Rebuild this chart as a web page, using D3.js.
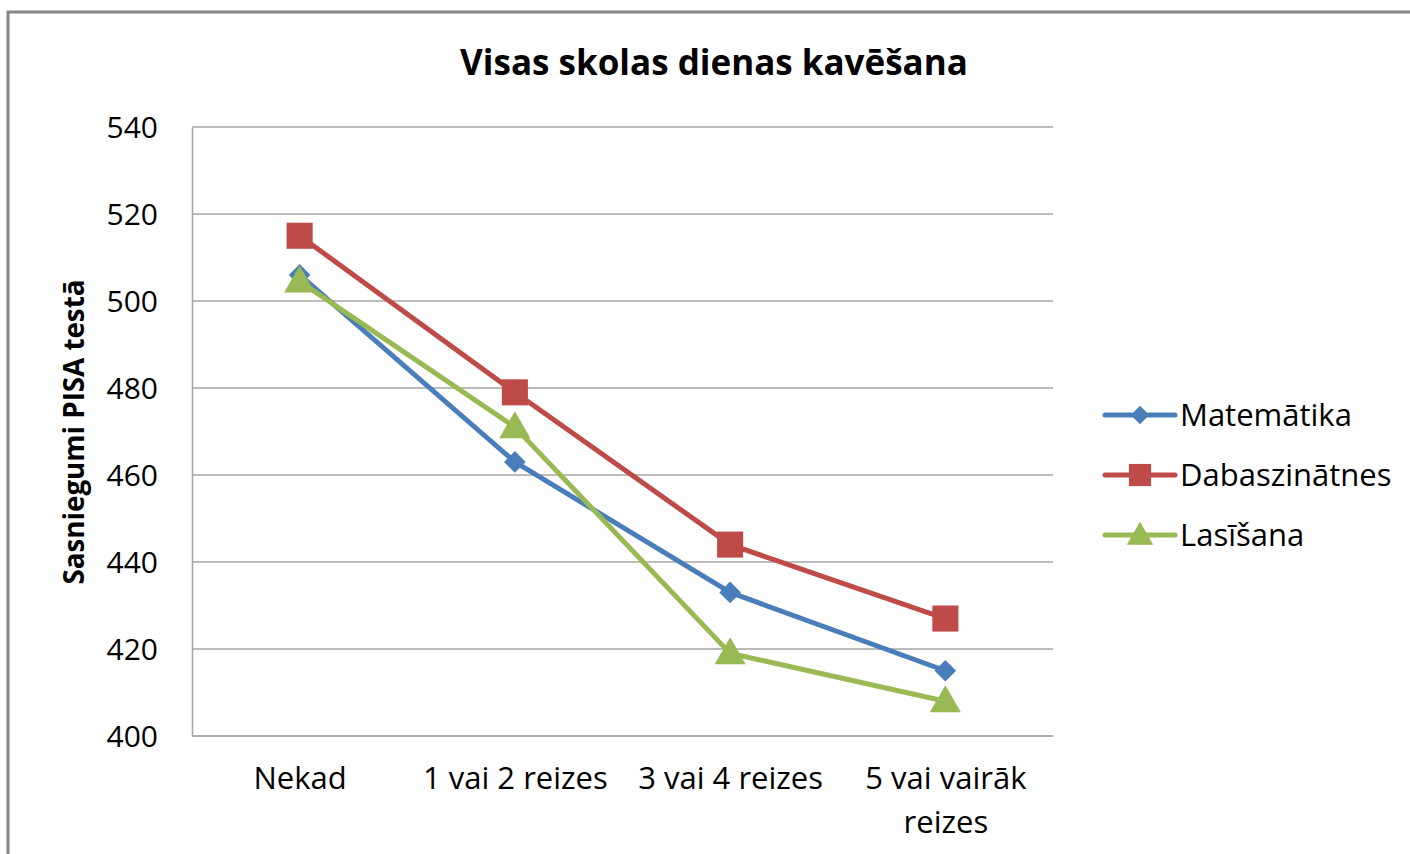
<!DOCTYPE html>
<html>
<head>
<meta charset="utf-8">
<script src="https://cdn.jsdelivr.net/npm/d3@7"></script>
<style>
  html, body { margin: 0; padding: 0; background: #fff; }
  svg { display: block; }
  text { font-family: "Open Sans", Lato, sans-serif; fill: #000; }
</style>
</head>
<body>
<svg id="chart" width="1410" height="854"></svg>
<script>
const title = "Visas skolas dienas kavēšana";
const yTitle = "Sasniegumi PISA testā";
const categories = ["Nekad", "1 vai 2 reizes", "3 vai 4 reizes", "5 vai vairāk reizes"];
const categoryLines = [["Nekad"], ["1 vai 2 reizes"], ["3 vai 4 reizes"], ["5 vai vairāk", "reizes"]];
const yTicks = [400, 420, 440, 460, 480, 500, 520, 540];
const seriesNames = ["Matemātika", "Dabaszinātnes", "Lasīšana"];
const matematika = [506, 463, 433, 415];
const dabaszinatnes = [515, 479, 444, 427];
const lasisana = [504.5, 471, 419, 408];
const seriesValues = [matematika, dabaszinatnes, lasisana];
const colors = ["#4A7EBB", "#BE4B48", "#98B954"];
const markers = ["diamond", "square", "triangle"];

const svg = d3.select("#chart");
const plot = { left: 192, right: 1053, top: 127, bottom: 736 };

function fitWidth(sel, target) {
  sel.each(function() {
    const w = this.getComputedTextLength();
    if (w > 0) {
      const fs = parseFloat(d3.select(this).style("font-size"));
      d3.select(this).style("font-size", (fs * target / w) + "px");
    }
  });
}

// outer border (left + top only visible)
svg.append("path")
  .attr("d", "M8,854 L8,12 L1410,12")
  .attr("fill", "none").attr("stroke", "#868686").attr("stroke-width", 3);

const x = d3.scalePoint().domain(categories).range([plot.left, plot.right]).padding(0.5);
const y = d3.scaleLinear().domain([400, 540]).range([plot.bottom, plot.top]);

// gridlines
svg.append("g").selectAll("line").data(yTicks).join("line")
  .attr("x1", plot.left).attr("x2", plot.right)
  .attr("y1", d => y(d)).attr("y2", d => y(d))
  .attr("stroke", "#a6a6a6").attr("stroke-width", 1.5);

// axes
const yAxis = svg.append("g").attr("transform", `translate(${plot.left},0)`)
  .call(d3.axisLeft(y).tickValues(yTicks).tickSize(0).tickPadding(34));
yAxis.select(".domain").attr("stroke", "#a6a6a6").attr("stroke-width", 1.5);
yAxis.selectAll("text").style("font-size", "30px").attr("dy", "0.36em");

const xAxis = svg.append("g").attr("transform", `translate(0,${plot.bottom})`)
  .call(d3.axisBottom(x).tickSize(0).tickFormat(""));
xAxis.select(".domain").attr("stroke", "#a6a6a6").attr("stroke-width", 1.5)
  .attr("d", `M${plot.left},0H${plot.right}`);
xAxis.selectAll(".tick").each(function(d, i) {
  const t = d3.select(this).append("text").attr("text-anchor", "middle").style("font-size", "31px");
  categoryLines[i].forEach((ln, j) => {
    t.append("tspan").attr("x", 0).attr("y", 53 + j * 44).text(ln);
  });
});

// title
const tt = svg.append("text").attr("x", 714).attr("y", 75).attr("text-anchor", "middle")
  .style("font-size", "30px").style("font-weight", "bold").text(title);
fitWidth(tt, 508);

// y axis title
const yt = svg.append("text").attr("transform", "translate(84,432) rotate(-90)")
  .attr("text-anchor", "middle").style("font-size", "26px").style("font-weight", "bold").text(yTitle);
fitWidth(yt, 305);

function markerPath(type) {
  if (type === "diamond") return d3.symbol().type(d3.symbolDiamond2).size(300)();
  if (type === "square") return d3.symbol().type(d3.symbolSquare).size(680)();
  return d3.symbol().type(d3.symbolTriangle).size(420)();
}

const line = d3.line().x((d, i) => x(categories[i])).y(d => y(d));

seriesValues.forEach((vals, s) => {
  const g = svg.append("g");
  g.append("path").datum(vals).attr("d", line)
    .attr("fill", "none").attr("stroke", colors[s]).attr("stroke-width", 5).attr("stroke-linejoin", "round");
  g.selectAll("path.m").data(vals).join("path").attr("class", "m")
    .attr("d", markerPath(markers[s]))
    .attr("transform", (d, i) => `translate(${x(categories[i])},${y(d) + (markers[s] === "triangle" ? 2 : 0)})`)
    .attr("fill", colors[s]);
});

// legend
const legend = svg.append("g");
seriesNames.forEach((name, s) => {
  const ly = 415 + s * 60;
  legend.append("line").attr("x1", 1105).attr("x2", 1175).attr("y1", ly).attr("y2", ly)
    .attr("stroke", colors[s]).attr("stroke-width", 5).attr("stroke-linecap", "round");
  legend.append("path").attr("d", markerPath(markers[s]))
    .attr("transform", `translate(1140,${ly + (markers[s] === "triangle" ? 2 : 0)}) scale(0.85)`)
    .attr("fill", colors[s]);
  legend.append("text").attr("x", 1180).attr("y", ly).attr("dy", "0.36em")
    .style("font-size", "31px").text(name);
});
</script>
</body>
</html>
